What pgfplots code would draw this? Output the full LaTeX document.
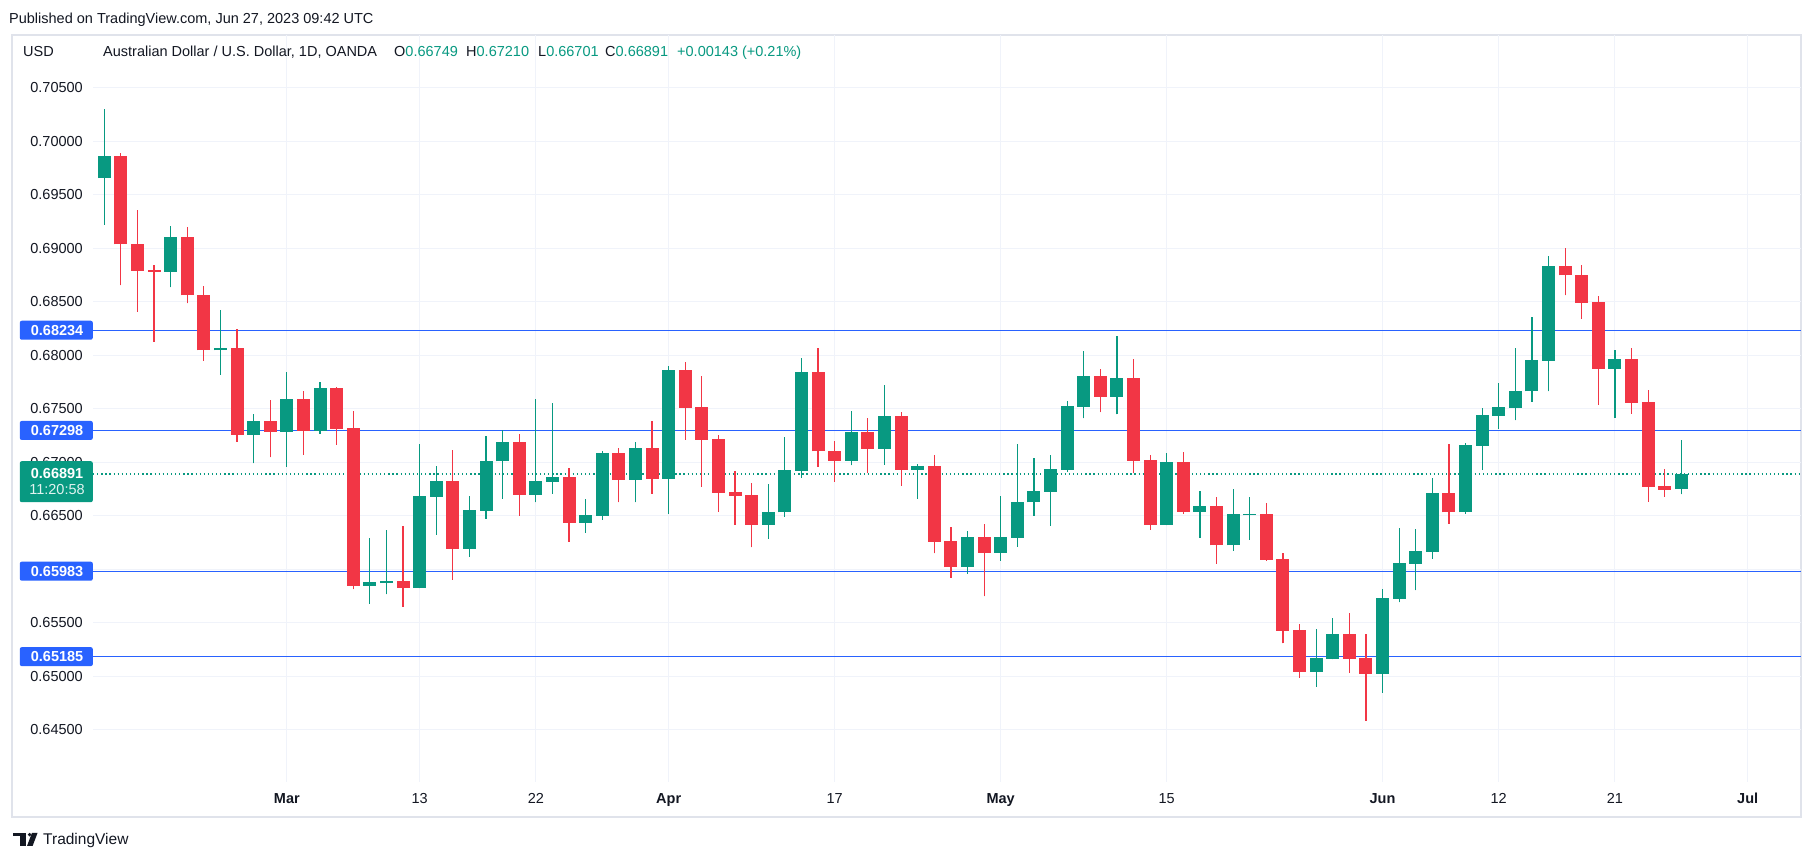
\documentclass[border=0pt]{standalone}
\usepackage{pgfplots}
\usepackage{pgfplotstable}
\usepackage{fontspec}
\setmainfont{Liberation Sans}
\pgfplotsset{compat=1.18}
\definecolor{up}{HTML}{089981}
\definecolor{dn}{HTML}{F23645}
\definecolor{tvblue}{HTML}{2962FF}
\definecolor{gridc}{HTML}{F0F3FA}
\definecolor{txt}{HTML}{131722}
\definecolor{bordc}{HTML}{E0E3EB}
\newcommand{\fs}{\fontsize{14.5}{17}\selectfont}
\tikzset{pbox/.style={fill=tvblue, text=white, font=\bfseries\fs, anchor=east, text width=54pt, align=right,
    inner xsep=9.5pt, inner ysep=0pt, minimum height=19pt, rounded corners=2pt}}
\pgfplotsset{candle/.style={only marks, mark=*, mark size=0pt, mark options={draw=none, fill=none},
    error bars/.cd, y dir=plus, y explicit, error mark=none}}

\pgfplotstableread{
i o h l c
-11 0.69655 0.70300 0.69219 0.69861
-7 0.68780 0.69208 0.68634 0.69107
-4 0.68045 0.68424 0.67819 0.68067
-2 0.67260 0.67451 0.66990 0.67388
0 0.67286 0.67846 0.66960 0.67590
2 0.67297 0.67752 0.67267 0.67695
5 0.65848 0.66291 0.65679 0.65882
6 0.65871 0.66366 0.65766 0.65890
8 0.65830 0.67170 0.65822 0.66686
9 0.66678 0.66967 0.66325 0.66824
11 0.66194 0.66686 0.66119 0.66554
12 0.66550 0.67245 0.66475 0.67012
13 0.67008 0.67301 0.66659 0.67189
15 0.66697 0.67590 0.66625 0.66824
16 0.66821 0.67553 0.66708 0.66862
18 0.66438 0.66656 0.66344 0.66509
19 0.66502 0.67106 0.66464 0.67087
21 0.66839 0.67189 0.66625 0.67132
23 0.66847 0.67902 0.66520 0.67864
29 0.66419 0.66798 0.66288 0.66535
30 0.66532 0.67237 0.66494 0.66930
31 0.66922 0.67973 0.66858 0.67846
34 0.67016 0.67481 0.66971 0.67282
36 0.67128 0.67722 0.66978 0.67433
38 0.66933 0.66986 0.66659 0.66967
41 0.66021 0.66359 0.65961 0.66303
43 0.66156 0.66686 0.66081 0.66303
44 0.66295 0.67170 0.66212 0.66629
45 0.66625 0.67042 0.66502 0.66731
46 0.66727 0.67068 0.66408 0.66937
47 0.66933 0.67571 0.66914 0.67526
48 0.67519 0.68041 0.67410 0.67808
50 0.67613 0.68180 0.67448 0.67789
53 0.66419 0.67087 0.66410 0.67005
55 0.66539 0.66731 0.66295 0.66592
57 0.66224 0.66749 0.66175 0.66517
58 0.66508 0.66674 0.66276 0.66518
62 0.65045 0.65443 0.64906 0.65173
63 0.65165 0.65544 0.65160 0.65394
66 0.65026 0.65815 0.64850 0.65732
67 0.65728 0.66385 0.65691 0.66059
68 0.66055 0.66378 0.65803 0.66171
69 0.66164 0.66854 0.66100 0.66712
71 0.66532 0.67181 0.66520 0.67162
72 0.67155 0.67508 0.66933 0.67444
73 0.67436 0.67740 0.67316 0.67515
74 0.67511 0.68067 0.67391 0.67665
75 0.67662 0.68356 0.67568 0.67954
76 0.67951 0.68927 0.67662 0.68833
80 0.67876 0.68048 0.67418 0.67966
84 0.66749 0.67210 0.66701 0.66891
}\upt

\pgfplotstableread{
i o h l c
-10 0.69861 0.69891 0.68652 0.69035
-9 0.69039 0.69358 0.68408 0.68791
-8 0.68795 0.68844 0.68127 0.68780
-6 0.69107 0.69197 0.68484 0.68559
-5 0.68563 0.68649 0.67951 0.68045
-3 0.68067 0.68247 0.67192 0.67260
-1 0.67388 0.67583 0.67046 0.67286
1 0.67590 0.67665 0.67072 0.67297
3 0.67695 0.67703 0.67166 0.67316
4 0.67320 0.67481 0.65815 0.65848
7 0.65890 0.66404 0.65653 0.65830
10 0.66824 0.67114 0.65905 0.66194
14 0.67189 0.67264 0.66502 0.66697
17 0.66862 0.66948 0.66258 0.66438
20 0.67087 0.67132 0.66625 0.66839
22 0.67132 0.67388 0.66708 0.66847
24 0.67864 0.67939 0.67211 0.67511
25 0.67515 0.67808 0.66772 0.67211
26 0.67219 0.67256 0.66539 0.66716
27 0.66723 0.66918 0.66419 0.66689
28 0.66693 0.66806 0.66205 0.66419
32 0.67846 0.68067 0.66960 0.67102
33 0.67106 0.67200 0.66821 0.67016
35 0.67282 0.67414 0.66900 0.67128
37 0.67433 0.67470 0.66783 0.66933
39 0.66967 0.67065 0.66149 0.66258
40 0.66265 0.66396 0.65923 0.66021
42 0.66303 0.66423 0.65747 0.66156
49 0.67808 0.67872 0.67470 0.67613
51 0.67789 0.67966 0.66896 0.67016
52 0.67023 0.67068 0.66370 0.66419
54 0.67005 0.67098 0.66520 0.66539
56 0.66592 0.66674 0.66055 0.66224
59 0.66517 0.66622 0.66081 0.66092
60 0.66096 0.66152 0.65308 0.65428
61 0.65432 0.65488 0.64989 0.65045
64 0.65394 0.65593 0.65034 0.65165
65 0.65173 0.65394 0.64587 0.65026
70 0.66712 0.67170 0.66426 0.66532
77 0.68833 0.69002 0.68559 0.68746
78 0.68750 0.68844 0.68341 0.68491
79 0.68499 0.68555 0.67538 0.67876
81 0.67966 0.68067 0.67455 0.67556
82 0.67564 0.67677 0.66633 0.66772
83 0.66783 0.66937 0.66678 0.66745
}\dnt

\begin{document}
\begin{tikzpicture}[x=1pt,y=1pt]
\fill[white] (0,0) rectangle (1815,861);
\draw[bordc, line width=2pt] (12,44) rectangle (1801,826);

\node[anchor=base west, inner sep=0pt, font=\fs, text=txt] at (9,837) {Published on TradingView.com, Jun 27, 2023 09:42 UTC};

\begin{axis}[
  at={(93pt,79pt)}, anchor=south west,
  width=1708pt, height=747pt, scale only axis,
  xmin=-11.68, xmax=91.21, ymin=0.64014, ymax=0.70992,
  axis line style={draw=none},
  xtick={0,8,15,23,33,43,53,66,73,80,88},
  xticklabels={\textbf{Mar},13,22,\textbf{Apr},17,\textbf{May},15,\textbf{Jun},12,21,\textbf{Jul}},
  ytick={0.645,0.65,0.655,0.66,0.665,0.67,0.675,0.68,0.685,0.69,0.695,0.7,0.705},
  yticklabels={0.64500,0.65000,0.65500,0.66000,0.66500,0.67000,0.67500,0.68000,0.68500,0.69000,0.69500,0.70000,0.70500},
  major tick length=0pt,
  grid=major,
  major grid style={draw=gridc, line width=1pt},
  xticklabel style={anchor=base, inner sep=0pt, yshift=-22pt, font=\fs, text=txt},
  yticklabel style={anchor=east, inner sep=0pt, xshift=-10pt, font=\fs, text=txt},
  clip=false,
]
% horizontal level lines
\addplot[tvblue, line width=1pt] coordinates {(-11.68,0.68234) (91.21,0.68234)};
\addplot[tvblue, line width=1pt] coordinates {(-11.68,0.67298) (91.21,0.67298)};
\addplot[tvblue, line width=1pt] coordinates {(-11.68,0.65983) (91.21,0.65983)};
\addplot[tvblue, line width=1.6pt] coordinates {(-11.68,0.65185) (91.21,0.65185)};
\addplot[up, line width=1.3pt, dash pattern=on 1.3pt off 2.8pt] coordinates {(-11.68,0.66891) (91.21,0.66891)};

% wicks
\addplot[candle, error bar style={draw=up, line width=1.2pt}]
  table[x=i, y=l, y error expr=\thisrow{h}-\thisrow{l}] {\upt};
\addplot[candle, error bar style={draw=dn, line width=1.2pt}]
  table[x=i, y=l, y error expr=\thisrow{h}-\thisrow{l}] {\dnt};
% bodies
\addplot[candle, error bar style={draw=up, line width=13pt}]
  table[x=i, y=o, y error expr=\thisrow{c}-\thisrow{o}] {\upt};
\addplot[candle, error bar style={draw=dn, line width=13pt}]
  table[x=i, y=c, y error expr=\thisrow{o}-\thisrow{c}] {\dnt};

% price labels
\node[pbox] at (axis cs:-11.68,0.68234) {0.68234};
\node[pbox] at (axis cs:-11.68,0.67298) {0.67298};
\node[pbox] at (axis cs:-11.68,0.65983) {0.65983};
\node[pbox] at (axis cs:-11.68,0.65185) {0.65185};
\node[fill=up, text=white, font=\fs, anchor=north east, text width=54pt, align=right,
  inner xsep=9.5pt, inner ysep=7pt, minimum height=41pt, rounded corners=2pt, yshift=13pt]
  at (axis cs:-11.68,0.66891) {\textbf{0.66891}\\[-1pt]\textcolor{white!88!up}{11:20:58}};
\end{axis}

\node[anchor=base west, inner sep=0pt, font=\fs, text=txt] at (23,804) {USD};
\node[anchor=base west, inner sep=0pt, font=\fs, text=txt] at (103,804) {Australian Dollar / U.S. Dollar, 1D, OANDA};
\node[anchor=base west, inner sep=0pt, font=\fs, text=txt] at (394,804) {O\textcolor{up}{0.66749}};
\node[anchor=base west, inner sep=0pt, font=\fs, text=txt] at (466,804) {H\textcolor{up}{0.67210}};
\node[anchor=base west, inner sep=0pt, font=\fs, text=txt] at (538,804) {L\textcolor{up}{0.66701}};
\node[anchor=base west, inner sep=0pt, font=\fs, text=txt] at (605,804) {C\textcolor{up}{0.66891}};
\node[anchor=base west, inner sep=0pt, font=\fs, text=up] at (677,804) {+0.00143 (+0.21\%)};

% TradingView logo
\fill[txt] (13.3,24.5) rectangle (26,28.2);
\fill[txt] (19.8,15) rectangle (26,28.2);
\fill[txt] (29.6,26.3) circle (1.9);
\fill[txt] (32,28.2) -- (37.6,28.2) -- (32.6,15) -- (27,15) -- cycle;
\node[anchor=base west, inner sep=0pt, font=\fontsize{15.5}{18}\selectfont, text=txt] at (43,16.5) {TradingView};
\end{tikzpicture}
\end{document}
